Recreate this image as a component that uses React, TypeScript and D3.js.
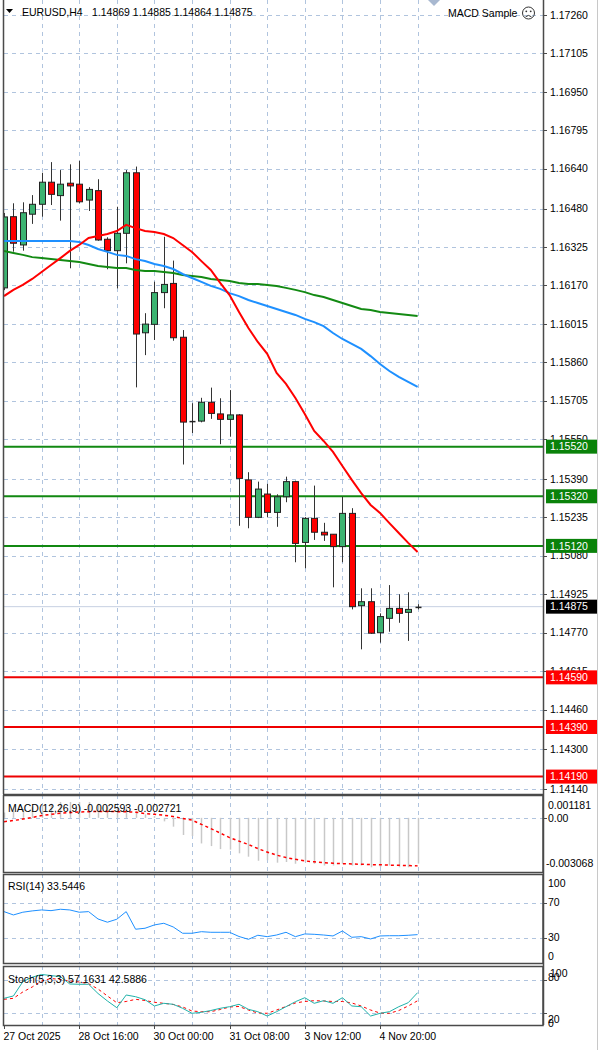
import React from "react";
import * as d3 from "d3";

const OPEN = [1.16160,1.16447,1.16333,1.16457,1.16497,1.16586,1.16532,1.16582,1.16578,1.16514,1.16552,1.16356,1.16310,1.16380,1.16624,1.15979,1.16013,1.16141,1.16178,1.15961,1.15621,1.15623,1.15699,1.15652,1.15630,1.15648,1.15386,1.15235,1.15329,1.15255,1.15318,1.15379,1.15134,1.15231,1.15175,1.15167,1.15117,1.15251,1.14879,1.14895,1.14770,1.14828,1.14868,1.14852,1.14869];
const HIGH = [1.16462,1.16501,1.16505,1.16534,1.16624,1.16667,1.16635,1.16658,1.16672,1.16566,1.16598,1.16364,1.16487,1.16635,1.16649,1.16058,1.16185,1.16366,1.16270,1.15990,1.15695,1.15717,1.15758,1.15715,1.15748,1.15651,1.15417,1.15379,1.15370,1.15328,1.15399,1.15383,1.15236,1.15363,1.15213,1.15167,1.15318,1.15272,1.14949,1.14949,1.14848,1.14962,1.14925,1.14933,1.14885];
const LOW = [1.16151,1.16306,1.16310,1.16418,1.16447,1.16494,1.16431,1.16239,1.16501,1.16470,1.16350,1.16235,1.16158,1.16259,1.15759,1.15889,1.15950,1.16078,1.15947,1.15448,1.15575,1.15618,1.15632,1.15530,1.15560,1.15201,1.15191,1.15232,1.15235,1.15197,1.15296,1.15054,1.15030,1.15144,1.15140,1.14953,1.15054,1.14864,1.14703,1.14765,1.14730,1.14774,1.14810,1.14737,1.14864];
const CLOSE = [1.16446,1.16340,1.16463,1.16497,1.16586,1.16537,1.16578,1.16571,1.16507,1.16557,1.16353,1.16310,1.16380,1.16624,1.15974,1.16014,1.16141,1.16174,1.15959,1.15619,1.15623,1.15699,1.15654,1.15630,1.15648,1.15392,1.15235,1.15349,1.15255,1.15318,1.15379,1.15130,1.15231,1.15175,1.15164,1.15117,1.15251,1.14875,1.14895,1.14768,1.14835,1.14868,1.14848,1.14864,1.14875];

const MA_RED = [1.16127,1.16152,1.16172,1.16196,1.16224,1.16252,1.16280,1.16309,1.16333,1.16361,1.16369,1.16377,1.16389,1.16414,1.16401,1.16389,1.16385,1.16377,1.16361,1.16333,1.16305,1.16268,1.16232,1.16180,1.16131,1.16063,1.15998,1.15942,1.15894,1.15817,1.15773,1.15716,1.15652,1.15583,1.15543,1.15499,1.15442,1.15386,1.15333,1.15285,1.15253,1.15212,1.15172,1.15132,1.15095];
const MA_BLUE = [1.16349,1.16349,1.16349,1.16349,1.16349,1.16349,1.16349,1.16349,1.16345,1.16333,1.16317,1.16305,1.16293,1.16289,1.16276,1.16268,1.16256,1.16248,1.16236,1.16216,1.16200,1.16184,1.16168,1.16156,1.16139,1.16127,1.16111,1.16099,1.16087,1.16075,1.16063,1.16051,1.16035,1.16022,1.16006,1.15978,1.15954,1.15934,1.15914,1.15885,1.15853,1.15825,1.15801,1.15781,1.15761];
const MA_GREEN = [1.16309,1.16301,1.16293,1.16284,1.16280,1.16276,1.16272,1.16268,1.16264,1.16256,1.16248,1.16244,1.16240,1.16240,1.16232,1.16228,1.16228,1.16224,1.16220,1.16212,1.16208,1.16204,1.16196,1.16192,1.16188,1.16180,1.16176,1.16176,1.16172,1.16168,1.16160,1.16152,1.16143,1.16131,1.16123,1.16111,1.16099,1.16087,1.16075,1.16071,1.16063,1.16059,1.16055,1.16051,1.16047];

const MACD_MAIN = [0.0003,0.0004,0.0005,0.0006,0.0007,0.0008,0.0009,0.0009,0.0009,0.0009,0.0008,0.0007,0.0006,0.0007,0.0004,0.0002,0.0001,-0.0002,-0.0005,-0.00097,-0.00103,-0.00145,-0.0016,-0.00177,-0.0018,-0.00201,-0.0022,-0.00243,-0.0024,-0.00254,-0.0025,-0.0026,-0.0025,-0.0026,-0.0027,-0.0027,-0.0026,-0.0027,-0.0027,-0.0028,-0.0028,-0.0027,-0.0028,-0.0028,-0.002593];
const MACD_SIGNAL = [-0.00022,-0.00015,-0.00007,0.00002,0.00013,0.0002,0.00026,0.0003,0.00033,0.00035,0.00036,0.00036,0.00035,0.00034,0.00032,0.00024,0.0002,0.00015,0.00007,-0.00003,-0.00013,-0.00037,-0.00061,-0.00086,-0.00112,-0.00132,-0.00151,-0.00174,-0.00194,-0.00211,-0.00225,-0.00235,-0.00244,-0.00249,-0.00254,-0.00257,-0.0026,-0.00261,-0.00263,-0.00265,-0.00266,-0.00268,-0.00269,-0.0027,-0.002721];

const RSI = [59.8,56.0,59.1,60.6,61.7,60.9,62.5,61.7,59.1,59.8,51.4,47.7,51.1,59.8,39.7,40.8,44.6,46.5,42.3,35.1,35.1,36.9,36.2,36.2,36.2,31.4,28.2,32.8,31.2,33.1,36.2,31.2,34.3,33.9,33.1,32.0,37.7,30.5,31.2,28.6,32.0,32.3,32.3,32.8,33.5446];
const STOCH_MAIN = [47.0,51.2,76.9,85,90,88,86,72.8,72.3,72.3,55.7,42.2,30.1,53.0,49.9,44.5,33.2,38.0,36.2,29.0,20.0,21.8,25.0,29.0,31.9,36.2,27.2,22.9,15.1,22.9,31.9,40.9,48.1,38.0,42.7,38.0,48.1,33.2,31.9,15.1,20.0,22.9,31.9,39.1,57.1631];
const STOCH_SIGNAL = [45.2,47.0,58.4,67.4,78.2,82.7,80.9,78.2,76.4,73.3,63.8,51.2,39.1,41.3,45.2,43.1,39.8,38.0,35.9,31.4,24.1,22.9,22.9,26.8,31.4,32.3,25.9,20.5,20.0,25.9,32.3,38.6,41.3,42.7,42.2,41.3,41.3,38.6,33.2,25.9,20.5,20.0,25.0,33.2,42.5886];

const PRICE_TICKS = [1.17260,1.17105,1.16950,1.16795,1.16640,1.16480,1.16325,1.16170,1.16015,1.15860,1.15705,1.15550,1.15390,1.15235,1.15080,1.14925,1.14770,1.14615,1.14460,1.14300,1.14140];
const GREEN_LEVELS = [1.15520,1.15320,1.15120];
const RED_LEVELS = [1.14590,1.14390,1.14190];
const LAST_PRICE = 1.14875;
const HEADER_OHLC = "1.14869 1.14885 1.14864 1.14875";
const TIME_LABELS = ["27 Oct 2025","28 Oct 16:00","30 Oct 00:00","31 Oct 08:00","3 Nov 12:00","4 Nov 20:00"];
const TIME_LABEL_BARS = [0,8,16,24,32,40];
const GRID_BARS = [4,8,12,16,20,24,28,32,36,40,44];

const FONT = "'Liberation Sans', Arial, sans-serif";
const L = 4, R = 543;
const MAIN = { top: 0, bottom: 794 };
const MP = { top: 795, bottom: 872 };
const RP = { top: 874, bottom: 963 };
const SP = { top: 966, bottom: 1025 };
const GRID = "#b0c4de";
const FRAME = "#4a4a4a";

export default function App() {
  const n = CLOSE.length;
  const x = d3.scaleLinear().domain([0, 44]).range([4, 417.6]);
  const y = d3.scaleLinear().domain([1.1414, 1.1726]).range([789, 15]);
  const ym = d3.scaleLinear().domain([-0.003068, 0.001181]).range([872, 797]);
  const yr = d3.scaleLinear().domain([0, 100]).range([964, 876.4]);
  const ys = d3.scaleLinear().domain([0, 100]).range([1024.4, 968.9]);
  const idx = d3.range(n);

  const maLine = (arr: number[]) => d3.line<number>().x((_, i) => x(i)).y((d) => y(d))(arr) || "";
  const subLine = (arr: number[], sc: any) => d3.line<number>().x((_, i) => x(i)).y((d) => sc(d))(arr) || "";

  const txt = (s: string, tx: number, ty: number, extra: any = {}) => (
    <text x={tx} y={ty} fontFamily={FONT} fontSize={10.5} dy="0.35em" fill="#000" {...extra}>{s}</text>
  );

  const labelBox = (v: number, fill: string, key: string) => {
    const yy = y(v);
    return (
      <g key={key}>
        <rect x={546} y={yy - 7} width={51} height={14} fill={fill} />
        <text x={550} y={yy} dy="0.35em" fontFamily={FONT} fontSize={10.5} fill="#fff">{v.toFixed(5)}</text>
      </g>
    );
  };

  return (
    <svg width={600} height={1050} style={{ position: "absolute", left: 0, top: 0, background: "#fff" }}>
      <defs>
        <clipPath id="mainclip"><rect x={L} y={MAIN.top} width={R - L} height={MAIN.bottom - MAIN.top} /></clipPath>
      </defs>
      <rect x={0} y={0} width={600} height={1050} fill="#fff" />

      {/* vertical grid */}
      {GRID_BARS.map((b) => (
        <g key={"vg" + b}>
          {[MAIN, MP, RP, SP].map((p, k) => (
            <line key={k} x1={Math.round(x(b)) + 0.5} x2={Math.round(x(b)) + 0.5} y1={p.top} y2={p.bottom} stroke={GRID} strokeDasharray="4,4" />
          ))}
        </g>
      ))}
      {/* horizontal grid main */}
      {PRICE_TICKS.map((t) => (
        <line key={"hg" + t} x1={L} x2={R} y1={Math.round(y(t)) + 0.5} y2={Math.round(y(t)) + 0.5} stroke={GRID} strokeDasharray="4,4" />
      ))}
      {/* sub grid */}
      <line x1={L} x2={R} y1={Math.round(ym(0)) + 0.5} y2={Math.round(ym(0)) + 0.5} stroke={GRID} strokeDasharray="4,4" />
      {[70, 30].map((v) => (
        <line key={"rg" + v} x1={L} x2={R} y1={Math.round(yr(v)) + 0.5} y2={Math.round(yr(v)) + 0.5} stroke={GRID} strokeDasharray="4,4" />
      ))}
      {[80, 20].map((v) => (
        <line key={"sg" + v} x1={L} x2={R} y1={Math.round(ys(v)) + 0.5} y2={Math.round(ys(v)) + 0.5} stroke={GRID} strokeDasharray="4,4" />
      ))}

      <g clipPath="url(#mainclip)">
        {/* last price line */}
        <line x1={L} x2={R} y1={y(LAST_PRICE)} y2={y(LAST_PRICE)} stroke="#c6d0e2" strokeWidth={1} />
        {/* levels */}
        {GREEN_LEVELS.map((v) => (
          <line key={"gl" + v} x1={L} x2={R} y1={y(v)} y2={y(v)} stroke="#118811" strokeWidth={2} />
        ))}
        {RED_LEVELS.map((v) => (
          <line key={"rl" + v} x1={L} x2={R} y1={y(v)} y2={y(v)} stroke="#ee0000" strokeWidth={2} />
        ))}
        {/* candles */}
        {idx.map((i) => {
          const cx = Math.round(x(i)) + 0.5;
          const up = CLOSE[i] >= OPEN[i];
          const top = y(Math.max(OPEN[i], CLOSE[i]));
          const bot = y(Math.min(OPEN[i], CLOSE[i]));
          const h = Math.max(1, bot - top);
          return (
            <g key={"c" + i}>
              <line x1={cx} x2={cx} y1={y(HIGH[i])} y2={y(LOW[i])} stroke="#333" strokeWidth={1} />
              {h > 2 ? (
                <rect x={cx - 3} y={top} width={6} height={h} fill={up ? "#3cb371" : "#ff0000"} stroke="#222" strokeWidth={1} />
              ) : (
                <line x1={cx - 3} x2={cx + 3} y1={top + h / 2} y2={top + h / 2} stroke="#222" strokeWidth={1.5} />
              )}
            </g>
          );
        })}
        {/* moving averages */}
        <path d={maLine(MA_GREEN)} fill="none" stroke="#138a13" strokeWidth={2} />
        <path d={maLine(MA_BLUE)} fill="none" stroke="#1e90ff" strokeWidth={2} />
        <path d={maLine(MA_RED)} fill="none" stroke="#ff0000" strokeWidth={2} />
      </g>

      {/* MACD */}
      {idx.map((i) => (
        <line key={"mh" + i} x1={Math.round(x(i)) + 0.5} x2={Math.round(x(i)) + 0.5} y1={ym(0)} y2={ym(MACD_MAIN[i])} stroke="#c8c8c8" strokeWidth={1.5} />
      ))}
      <path d={subLine(MACD_SIGNAL, ym)} fill="none" stroke="#ff0000" strokeWidth={1.5} strokeDasharray="3,3" />

      {/* RSI */}
      <path d={subLine(RSI, yr)} fill="none" stroke="#1e90ff" strokeWidth={1} />

      {/* Stoch */}
      <path d={subLine(STOCH_SIGNAL, ys)} fill="none" stroke="#ff0000" strokeWidth={1} strokeDasharray="3,3" />
      <path d={subLine(STOCH_MAIN, ys)} fill="none" stroke="#20b2aa" strokeWidth={1} />

      {/* frames */}
      <line x1={3.5} x2={3.5} y1={0} y2={MAIN.bottom} stroke={FRAME} strokeWidth={1.5} />
      <line x1={R + 0.5} x2={R + 0.5} y1={0} y2={SP.bottom} stroke={FRAME} strokeWidth={1.5} />
      <line x1={3} x2={R} y1={MAIN.bottom + 0.5} y2={MAIN.bottom + 0.5} stroke={FRAME} strokeWidth={1.5} />
      {[MP, RP, SP].map((p, k) => (
        <rect key={"fr" + k} x={3.5} y={p.top + 0.5} width={R - 3.5} height={p.bottom - p.top} fill="none" stroke={FRAME} strokeWidth={1.5} />
      ))}
      <line x1={597.5} x2={597.5} y1={0} y2={1050} stroke="#c8c8c8" strokeWidth={1} />

      {/* price axis */}
      {PRICE_TICKS.map((t) => (
        <g key={"pt" + t}>
          <line x1={R} x2={R + 4} y1={Math.round(y(t)) + 0.5} y2={Math.round(y(t)) + 0.5} stroke={FRAME} />
          {txt(t.toFixed(5), 550, y(t))}
        </g>
      ))}
      {GREEN_LEVELS.map((v) => labelBox(v, "#0a820a", "gb" + v))}
      {RED_LEVELS.map((v) => labelBox(v, "#ff0000", "rb" + v))}
      {labelBox(LAST_PRICE, "#000", "last")}

      {/* sub axes */}
      <line x1={R} x2={R + 4} y1={Math.round(ym(0)) + 0.5} y2={Math.round(ym(0)) + 0.5} stroke={FRAME} />
      {txt("0.001181", 548, 805)}
      {txt("0.00", 548, ym(0))}
      {txt("-0.003068", 546, 863)}
      {[70, 30].map((v) => (
        <line key={"rt" + v} x1={R} x2={R + 4} y1={Math.round(yr(v)) + 0.5} y2={Math.round(yr(v)) + 0.5} stroke={FRAME} />
      ))}
      {txt("100", 548, 883)}
      {txt("70", 548, yr(70))}
      {txt("30", 548, yr(30))}
      {txt("0", 548, 956)}
      {[80, 20].map((v) => (
        <line key={"st" + v} x1={R} x2={R + 4} y1={Math.round(ys(v)) + 0.5} y2={Math.round(ys(v)) + 0.5} stroke={FRAME} />
      ))}
      {txt("100", 550, 973)}
      {txt("80", 548, 977)}
      {txt("20", 548, 1019)}
      {txt("0", 548, 1023)}

      {/* time axis */}
      {TIME_LABELS.map((s, k) => {
        const tx = Math.round(x(TIME_LABEL_BARS[k])) + 0.5;
        return (
          <g key={"tl" + k}>
            <line x1={tx} x2={tx} y1={SP.bottom} y2={SP.bottom + 4} stroke={FRAME} />
            <text x={tx - 1} y={1040} fontFamily={FONT} fontSize={10.5} fill="#000">{s}</text>
          </g>
        );
      })}

      {/* panel titles */}
      {txt("MACD(12,26,9) -0.002593 -0.002721", 8, 808)}
      {txt("RSI(14) 33.5446", 8, 886)}
      {txt("Stoch(5,3,3) 57.1631 42.5886", 8, 979)}

      {/* header */}
      <path d="M6,9 L13,9 L9.5,13 Z" fill="#000" />
      {txt("EURUSD,H4", 22, 12)}
      {txt(HEADER_OHLC, 92, 12)}
      <path d="M428,0 L440,0 L434,6 Z" fill="#a8b8d0" />
      {txt("MACD Sample", 448, 13)}
      <g>
        <circle cx={528.5} cy={13} r={6} fill="none" stroke="#333" strokeWidth={1} />
        <circle cx={526.3} cy={11.3} r={0.9} fill="#333" />
        <circle cx={530.7} cy={11.3} r={0.9} fill="#333" />
        <path d="M525.6,16.8 Q528.5,14 531.4,16.8" fill="none" stroke="#333" strokeWidth={1} />
      </g>
    </svg>
  );
}
